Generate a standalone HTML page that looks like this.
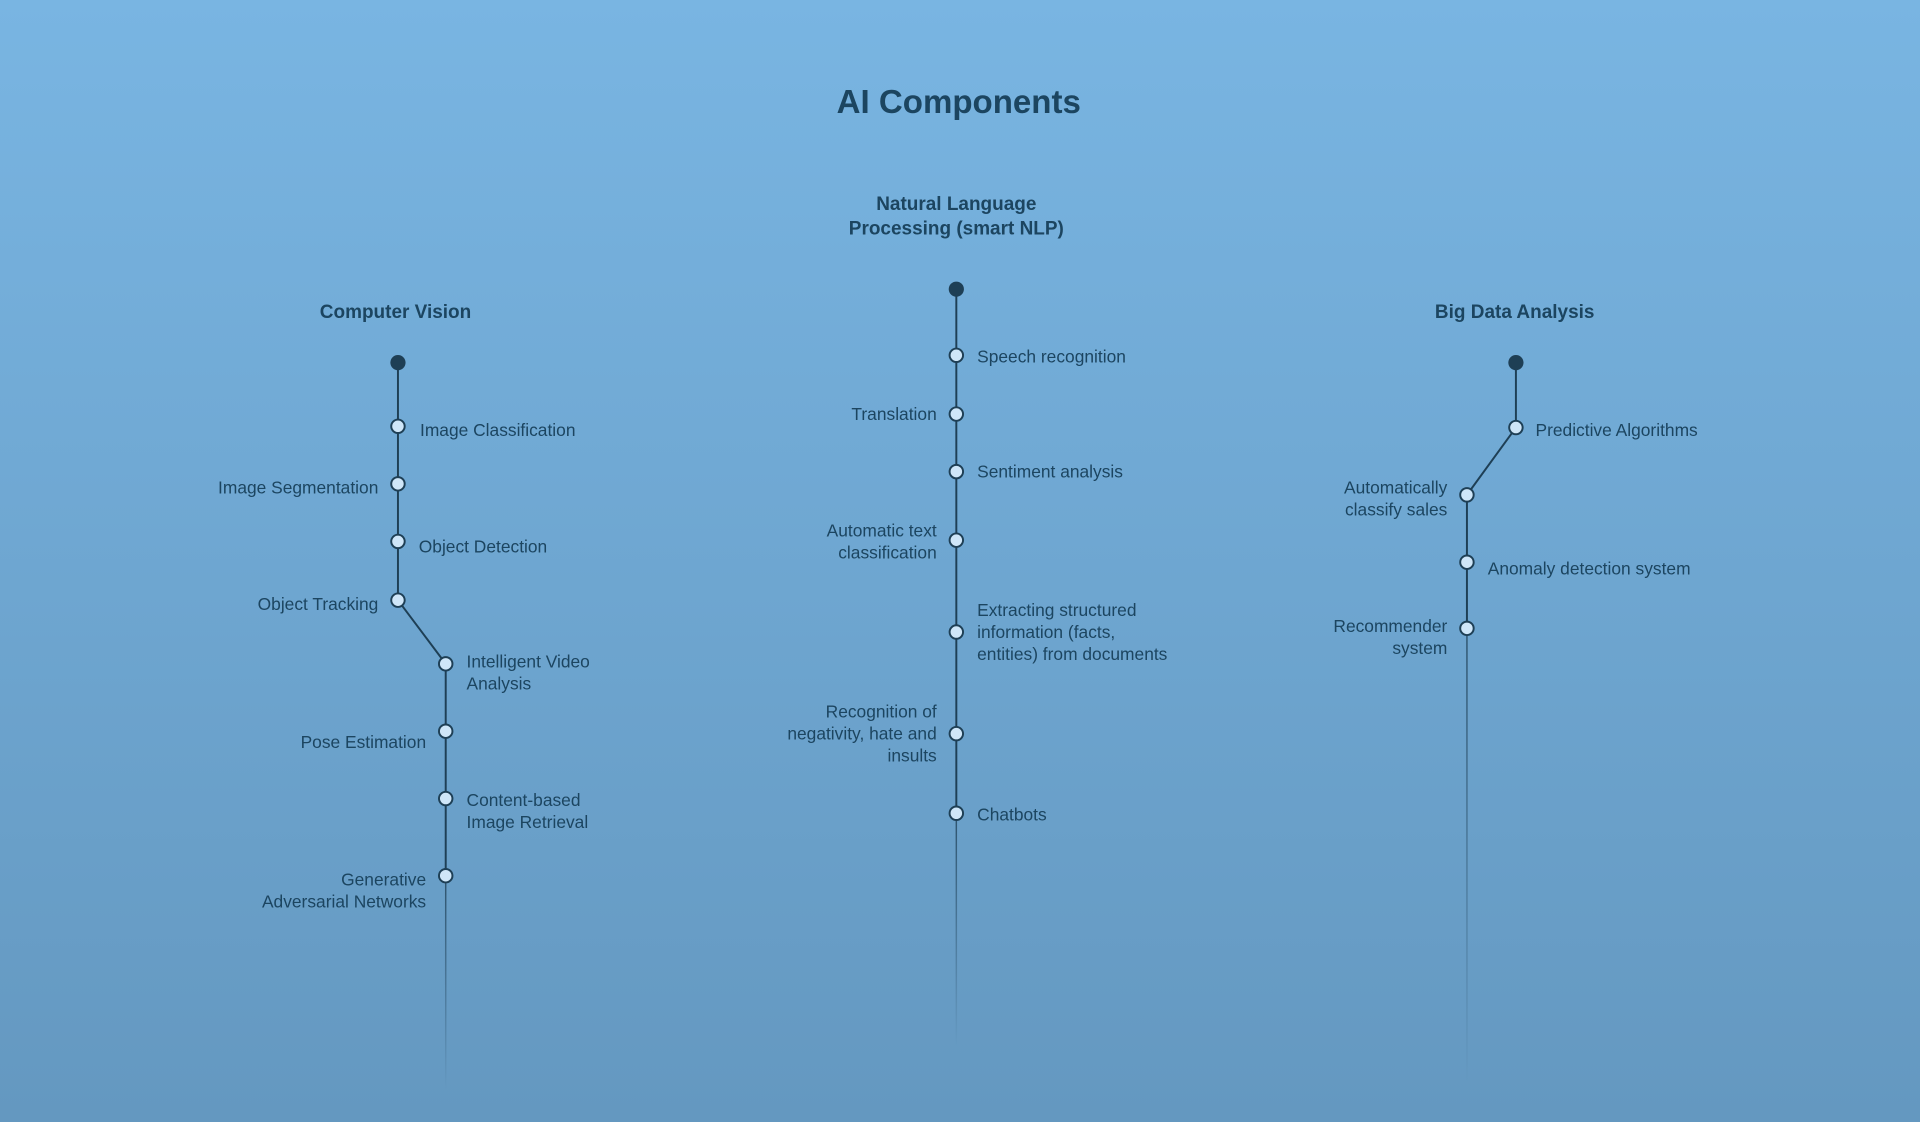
<!DOCTYPE html>
<html><head><meta charset="utf-8"><style>
html,body{margin:0;padding:0;width:1920px;height:1122px;overflow:hidden}
body{background:linear-gradient(#79b5e2,#6498c0)}
svg{display:block}
text{font-family:"Liberation Sans",sans-serif;fill:#1c4560;font-size:14.2px}
.h{font-weight:bold;font-size:15.5px}
.e{text-anchor:end}
.m{text-anchor:middle}
</style></head><body>
<svg width="1920" height="1122" viewBox="0 0 1568 916" xmlns="http://www.w3.org/2000/svg">
<defs>
<linearGradient id="f1" x1="0" y1="0" x2="0" y2="1"><stop offset="0" stop-color="#1e3f55" stop-opacity="0.8"/><stop offset="1" stop-color="#1e3f55" stop-opacity="0"/></linearGradient>
</defs>
<text x="783" y="92" class="m" style="font-size:27px;font-weight:bold">AI Components</text>

<g stroke="#1e3f55" stroke-width="1.6" fill="none">
<!-- CV -->
<polyline points="325,296 325,490 364,542 364,715"/>
<line x1="364" y1="715" x2="364.01" y2="890" stroke="url(#f1)" stroke-width="1.2"/>
<!-- NLP -->
<line x1="781" y1="236" x2="781" y2="664"/>
<line x1="781" y1="664" x2="781.01" y2="855" stroke="url(#f1)" stroke-width="1.2"/>
<!-- BD -->
<polyline points="1238,296 1238,349 1198,404 1198,513"/>
<line x1="1198" y1="513" x2="1198.01" y2="885" stroke="url(#f1)" stroke-width="1.2"/>
</g>

<g fill="#1e3f55">
<circle cx="325" cy="296" r="6.2"/><circle cx="781" cy="236" r="6.2"/><circle cx="1238" cy="296" r="6.2"/>
</g>
<g fill="#cfe6f8" stroke="#1e3f55" stroke-width="1.6">
<circle cx="325" cy="348" r="5.5"/><circle cx="325" cy="395" r="5.5"/><circle cx="325" cy="442" r="5.5"/><circle cx="325" cy="490" r="5.5"/>
<circle cx="364" cy="542" r="5.5"/><circle cx="364" cy="597" r="5.5"/><circle cx="364" cy="652" r="5.5"/><circle cx="364" cy="715" r="5.5"/>
<circle cx="781" cy="290" r="5.5"/><circle cx="781" cy="338" r="5.5"/><circle cx="781" cy="385" r="5.5"/><circle cx="781" cy="441" r="5.5"/>
<circle cx="781" cy="516" r="5.5"/><circle cx="781" cy="599" r="5.5"/><circle cx="781" cy="664" r="5.5"/>
<circle cx="1238" cy="349" r="5.5"/><circle cx="1198" cy="404" r="5.5"/><circle cx="1198" cy="459" r="5.5"/><circle cx="1198" cy="513" r="5.5"/>
</g>

<g dominant-baseline="central">
<text x="323" y="255" class="h m">Computer Vision</text>
<text x="781" y="167" class="h m">Natural Language</text>
<text x="781" y="187" class="h m">Processing (smart NLP)</text>
<text x="1237" y="255" class="h m">Big Data Analysis</text>

<text x="343" y="351">Image Classification</text>
<text x="309" y="398" class="e">Image Segmentation</text>
<text x="342" y="446">Object Detection</text>
<text x="309" y="493" class="e">Object Tracking</text>
<text x="381" y="540">Intelligent Video</text>
<text x="381" y="558">Analysis</text>
<text x="348" y="606" class="e">Pose Estimation</text>
<text x="381" y="653">Content-based</text>
<text x="381" y="671">Image Retrieval</text>
<text x="348" y="718" class="e">Generative</text>
<text x="348" y="736" class="e">Adversarial Networks</text>

<text x="798" y="291">Speech recognition</text>
<text x="765" y="338" class="e">Translation</text>
<text x="798" y="385">Sentiment analysis</text>
<text x="765" y="433" class="e">Automatic text</text>
<text x="765" y="451" class="e">classification</text>
<text x="798" y="498">Extracting structured</text>
<text x="798" y="516">information (facts,</text>
<text x="798" y="534">entities) from documents</text>
<text x="765" y="581" class="e">Recognition of</text>
<text x="765" y="599" class="e">negativity, hate and</text>
<text x="765" y="617" class="e">insults</text>
<text x="798" y="665">Chatbots</text>

<text x="1254" y="351">Predictive Algorithms</text>
<text x="1182" y="398" class="e">Automatically</text>
<text x="1182" y="416" class="e">classify sales</text>
<text x="1215" y="464">Anomaly detection system</text>
<text x="1182" y="511" class="e">Recommender</text>
<text x="1182" y="529" class="e">system</text>
</g>
</svg>
</body></html>
